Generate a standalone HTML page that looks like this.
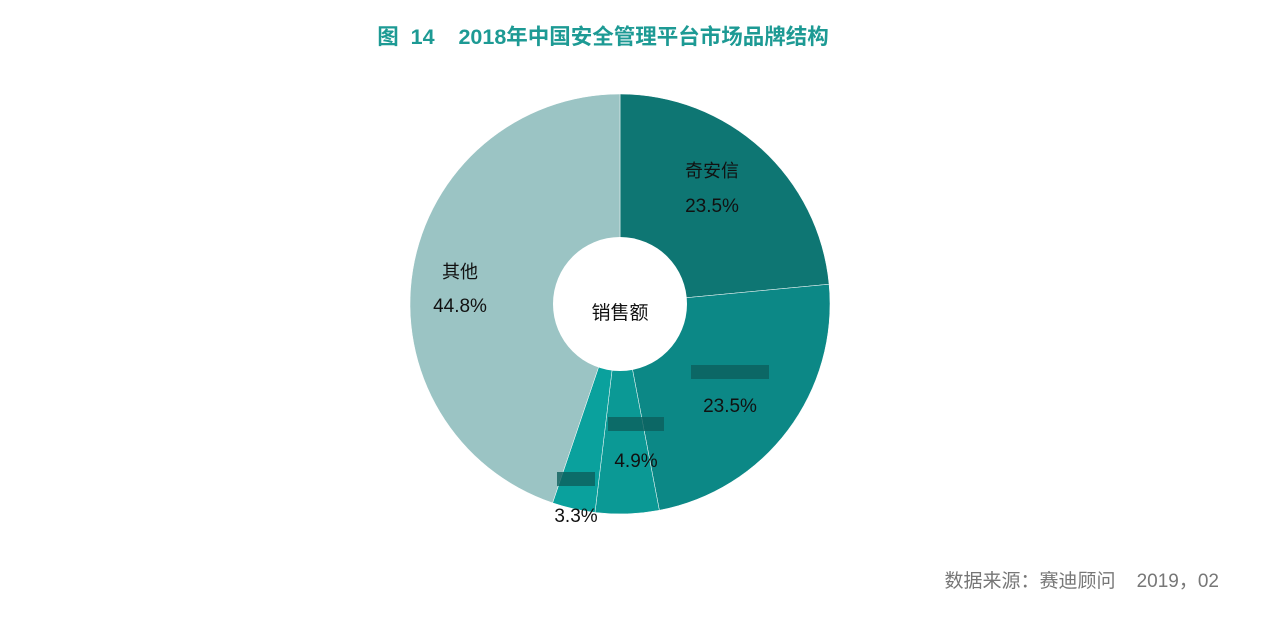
<!DOCTYPE html>
<html><head><meta charset="utf-8"><style>
body{margin:0;width:1266px;height:630px;background:#fff;overflow:hidden;font-family:"Liberation Sans","Noto Sans CJK SC",sans-serif}
text{white-space:pre}
</style></head><body>
<svg width="1266" height="630" xmlns="http://www.w3.org/2000/svg" font-family="Liberation Sans, Noto Sans CJK SC, sans-serif">
<text xml:space="preserve" x="603" y="44" text-anchor="middle" font-size="21.5" font-weight="bold" fill="#1d9a94">图  14    2018年中国安全管理平台市场品牌结构</text>
<g id="slices"></g>
<circle cx="620" cy="304" r="67" fill="#fff"/>
<text x="620" y="319" text-anchor="middle" font-size="19" fill="#111">销售额</text>
<g id="labels"></g>
<text xml:space="preserve" x="1219" y="587" text-anchor="end" font-size="19" fill="#777">数据来源：赛迪顾问    2019，02</text>
</svg>
<script>
const categories=["奇安信","","","","其他"];
const values=[23.5,23.5,4.9,3.3,44.8];
const valueLabels=["23.5%","23.5%","4.9%","3.3%","44.8%"];
const colors=["#0e7673","#0c8886","#0b9995","#0aa19d","#9bc4c4"];
const cx=620,cy=304,R=210;
const ns="http://www.w3.org/2000/svg";
const total=values.reduce((a,b)=>a+b,0);
const gs=document.getElementById('slices'),gl=document.getElementById('labels');
let a0=0;
const labelPos=[[712,177,712,212],[730,380,730,412],[636,432,636,467],[576,487,576,522],[460,278,460,312]];
values.forEach((v,i)=>{
  const a1=a0+v/total*2*Math.PI;
  const p=(a)=>[cx+R*Math.sin(a),cy-R*Math.cos(a)];
  const [x0,y0]=p(a0),[x1,y1]=p(a1);
  const path=document.createElementNS(ns,'path');
  path.setAttribute('d',`M${cx},${cy}L${x0},${y0}A${R},${R} 0 ${a1-a0>Math.PI?1:0} 1 ${x1},${y1}Z`);
  path.setAttribute('fill',colors[i]);
  path.setAttribute('stroke','#fff');path.setAttribute('stroke-width','0.5');
  
  
  gs.appendChild(path);
  const lp=labelPos[i];
  if(categories[i]){
    const t=document.createElementNS(ns,'text');
    t.setAttribute('x',lp[0]);t.setAttribute('y',lp[1]);t.setAttribute('text-anchor','middle');
    t.setAttribute('font-size','18');t.setAttribute('fill','#111');
    
    
    t.textContent=categories[i];gl.appendChild(t);
  } else {
    const r=document.createElementNS(ns,'rect');
    const w=i==1?78:(i==2?56:38);
    r.setAttribute('x',lp[0]-w/2);r.setAttribute('y',lp[1]-15);r.setAttribute('width',w);r.setAttribute('height',14);
    r.setAttribute('fill','#0d5f5c');r.setAttribute('opacity','0.8');
    
    
    gl.appendChild(r);
  }
  const t2=document.createElementNS(ns,'text');
  t2.setAttribute('x',lp[2]);t2.setAttribute('y',lp[3]);t2.setAttribute('text-anchor','middle');
  t2.setAttribute('font-size','19');t2.setAttribute('fill','#111');
  
  
  t2.textContent=valueLabels[i];gl.appendChild(t2);
  a0=a1;
});
</script>
</body></html>
